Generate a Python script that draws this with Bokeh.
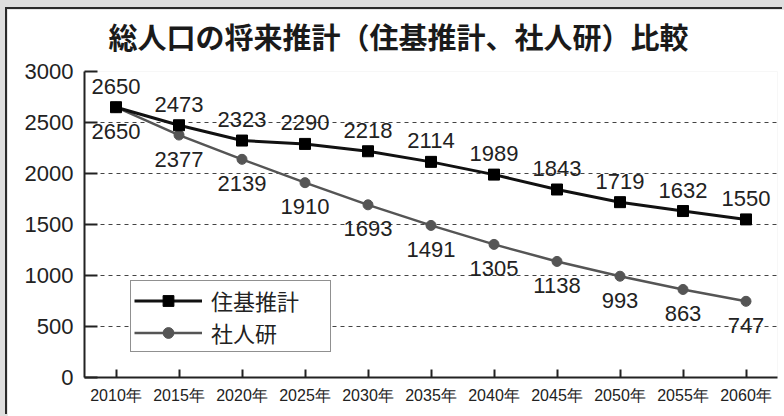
from bokeh.plotting import figure
from bokeh.models import ColumnDataSource, FixedTicker, Range1d, Legend, LegendItem
from bokeh.core.properties import value
from bokeh.embed import file_html
from bokeh.resources import INLINE

# ---- data ----
years = [2010, 2015, 2020, 2025, 2030, 2035, 2040, 2045, 2050, 2055, 2060]
year_labels = [f"{y}年" for y in years]
juki = [2650, 2473, 2323, 2290, 2218, 2114, 1989, 1843, 1719, 1632, 1550]
shajin = [2650, 2377, 2139, 1910, 1693, 1491, 1305, 1138, 993, 863, 747]
y_ticks = [0, 500, 1000, 1500, 2000, 2500, 3000]
series_names = ["住基推計", "社人研"]
title_text = "総人口の将来推計（住基推計、社人研）比較"

NUM_FONT = "Liberation Sans"
JP_FONT = "Noto Sans CJK JP"

src_j = ColumnDataSource(dict(x=years, y=juki, t=[str(v) for v in juki]))
src_s = ColumnDataSource(dict(x=years, y=shajin, t=[str(v) for v in shajin]))

p = figure(width=777, height=407, output_backend="svg", toolbar_location=None,
           x_range=Range1d(2007.5, 2062.5), y_range=Range1d(0, 3000),
           min_border_left=77, min_border_right=7, min_border_top=62, min_border_bottom=39,
           background_fill_color="white", border_fill_color="white")
p.margin = (9, 0, 0, 7)
p.outline_line_color = None
p.styles = {"box-shadow": "-2px -2px 0 0 #2a2a2a"}

# title
p.title.text = title_text
p.title.align = "left"
p.title.offset = 24
p.title.text_font = JP_FONT
p.title.text_font_size = "29px"
p.title.text_font_style = "bold"
p.title.text_color = "#1a1a1a"
p.title.standoff = 0
p.title.padding = (0, 0, 0, 15)

# axes
p.xaxis.ticker = FixedTicker(ticks=years)
p.xaxis.major_label_overrides = {y: l for y, l in zip(years, year_labels)}
p.xaxis.major_label_text_font = NUM_FONT
p.xaxis.major_label_text_font_size = "16px"
p.xaxis.major_label_text_color = "#222222"
p.xaxis.major_label_standoff = 9
p.xaxis.major_tick_in = 8
p.xaxis.major_tick_out = 0
p.xaxis.minor_tick_line_color = None
p.xaxis.axis_line_width = 2
p.xaxis.axis_line_color = "#222222"
p.xaxis.major_tick_line_width = 2
p.xaxis.major_tick_line_color = "#222222"

p.yaxis.ticker = FixedTicker(ticks=y_ticks)
p.yaxis.major_label_text_font = NUM_FONT
p.yaxis.major_label_text_font_size = "22px"
p.yaxis.major_label_text_color = "#222222"
p.yaxis.major_label_standoff = 11
p.yaxis.major_tick_in = 13
p.yaxis.major_tick_out = 0
p.yaxis.minor_tick_line_color = None
p.yaxis.axis_line_width = 2
p.yaxis.axis_line_color = "#222222"
p.yaxis.major_tick_line_width = 2
p.yaxis.major_tick_line_color = "#222222"

p.xgrid.grid_line_color = None
p.ygrid.ticker = FixedTicker(ticks=y_ticks)
p.ygrid.grid_line_color = "#444444"
p.ygrid.grid_line_width = 1
p.ygrid.grid_line_dash = "4 4"

# series (gray first so black sits on top)
ls = p.line("x", "y", source=src_s, line_color="#555555", line_width=2.5)
ms = p.scatter("x", "y", source=src_s, marker="circle", size=10, fill_color="#555555", line_color="#555555")
lj = p.line("x", "y", source=src_j, line_color="#111111", line_width=3)
mj = p.scatter("x", "y", source=src_j, marker="square", size=11, fill_color="#000000", line_color="#000000")

# value labels
p.text("x", "y", text="t", source=src_j, text_align="center", text_baseline="middle",
       y_offset=-21, text_font=value(NUM_FONT),
       text_font_size="22px", text_color="#222222")
p.text("x", "y", text="t", source=src_s, text_align="center", text_baseline="middle",
       y_offset=24, text_font=value(NUM_FONT),
       text_font_size="22px", text_color="#222222")

# legend
legend = Legend(items=[LegendItem(label=series_names[0], renderers=[lj, mj]),
                       LegendItem(label=series_names[1], renderers=[ls, ms])],
                location=(46, 25), orientation="vertical")
legend.label_text_font = JP_FONT
legend.label_text_font_size = "22px"
legend.label_text_color = "#222222"
legend.glyph_width = 68
legend.glyph_height = 27
legend.label_height = 27
legend.label_width = 116
legend.label_standoff = 9
legend.padding = 3
legend.spacing = 0
legend.margin = 0
legend.border_line_color = "#222222"
legend.border_line_width = 1.5
legend.background_fill_color = "white"
legend.background_fill_alpha = 1
p.add_layout(legend, "center")

html = file_html(p, INLINE)
html = html.replace("<head>", "<head><style>html,body{background:#dedede;}</style>", 1)
open("out.html", "w").write(html)
